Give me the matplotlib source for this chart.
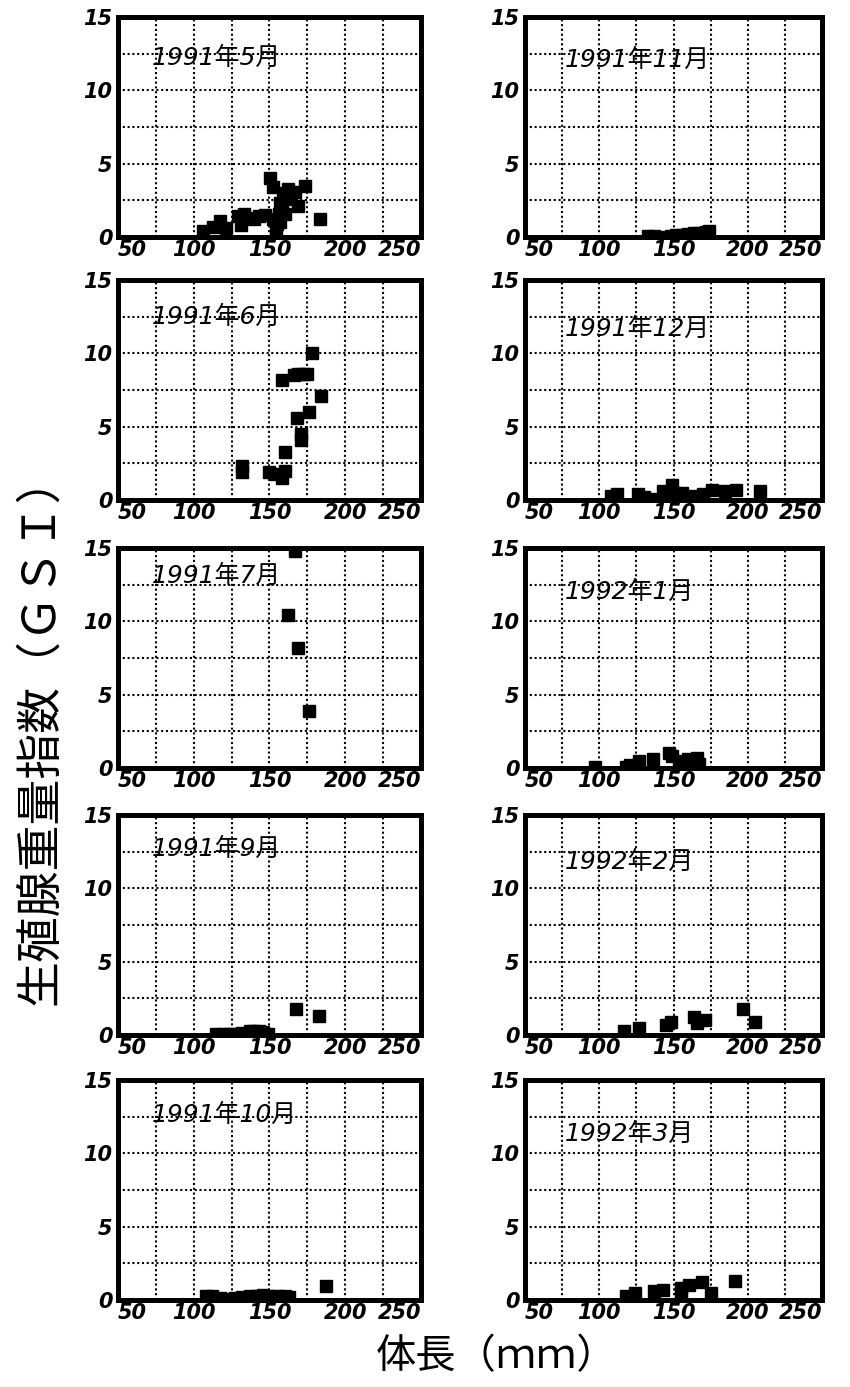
import matplotlib

matplotlib.use("Agg")
import matplotlib.pyplot as plt
import numpy as np


# body length (mm) / gonadosomatic index for each monthly sample
MAY91_LEN = [106, 113, 117, 121, 129, 131, 133, 136, 140, 143, 147, 150.5, 152, 152.5, 154, 155, 156, 157, 157,
             158, 159, 160, 162.5, 164, 167, 169, 173.5, 183.5]
MAY91_GSI = [0.4, 0.7, 1.1, 0.6, 1.4, 0.8, 1.6, 1.3, 1.2, 1.4, 1.5, 4.0, 1.2, 3.4, 0.5, 0.9, 1.6, 2.3, 1.0,
             2.0, 3.0, 1.6, 3.3, 2.6, 3.1, 2.1, 3.5, 1.2]

JUN91_LEN = [132, 132, 150, 153.5, 158, 160, 158, 160, 166, 169, 172, 174.5, 168, 171, 171, 176, 178, 184]
JUN91_GSI = [2.3, 1.9, 1.9, 1.8, 1.5, 2.0, 8.2, 3.3, 8.5, 8.6, 8.6, 8.6, 5.6, 4.5, 4.1, 6.0, 10.0, 7.1]

JUL91_LEN = [167, 162, 169, 176]
JUL91_GSI = [14.8, 10.4, 8.2, 3.9]

SEP91_LEN = [115, 120, 124, 128, 132, 137, 140, 143, 146, 149, 167.5, 183]
SEP91_GSI = [0.05, 0.05, 0.1, 0.1, 0.15, 0.25, 0.3, 0.3, 0.2, 0.1, 1.8, 1.3]

OCT91_LEN = [108, 112, 117, 122, 127, 132, 137, 142, 146, 150, 155, 160, 163, 187]
OCT91_GSI = [0.3, 0.25, 0.15, 0.1, 0.15, 0.2, 0.25, 0.3, 0.35, 0.3, 0.3, 0.25, 0.2, 0.95]

NOV91_LEN = [133, 137, 141, 148, 152, 156, 160, 164, 168, 172, 174]
NOV91_GSI = [0.05, 0.05, 0.0, 0.1, 0.15, 0.15, 0.2, 0.25, 0.3, 0.35, 0.4]

DEC91_LEN = [108, 112, 126, 130, 134, 143, 149, 151, 156, 164, 170, 176, 185, 192, 208]
DEC91_GSI = [0.3, 0.4, 0.4, 0.2, 0.1, 0.6, 1.0, 0.5, 0.5, 0.3, 0.4, 0.7, 0.6, 0.7, 0.6]

JAN92_LEN = [97, 118, 121, 127, 136, 147, 149, 154, 159.5, 166, 167.5]
JAN92_GSI = [0.1, 0.1, 0.2, 0.5, 0.6, 1.0, 0.8, 0.5, 0.6, 0.7, 0.3]

FEB92_LEN = [117, 127, 145, 148, 163.5, 166, 171.5, 197, 205]
FEB92_GSI = [0.3, 0.5, 0.7, 0.9, 1.2, 0.8, 1.0, 1.8, 0.9]

MAR92_LEN = [118, 124, 137, 143, 155, 155, 160.5, 169, 175, 191.5]
MAR92_GSI = [0.3, 0.45, 0.6, 0.7, 0.8, 0.5, 1.0, 1.2, 0.5, 1.3]

LEFT_TITLES = ["1991年5月", "1991年6月", "1991年7月", "1991年9月", "1991年10月"]
RIGHT_TITLES = ["1991年11月", "1991年12月", "1992年1月", "1992年2月", "1992年3月"]
LEFT_DATA = [(MAY91_LEN, MAY91_GSI), (JUN91_LEN, JUN91_GSI), (JUL91_LEN, JUL91_GSI),
             (SEP91_LEN, SEP91_GSI), (OCT91_LEN, OCT91_GSI)]
RIGHT_DATA = [(NOV91_LEN, NOV91_GSI), (DEC91_LEN, DEC91_GSI), (JAN92_LEN, JAN92_GSI),
              (FEB92_LEN, FEB92_GSI), (MAR92_LEN, MAR92_GSI)]

X_TICKS = [50, 100, 150, 200, 250]
Y_TICKS = [0, 5, 10, 15]

# layout in pixels of an 850 x 1387 canvas
W, H = 850, 1387
ROW_BOTTOMS = [237, 500, 768, 1035, 1300]
PANEL_H = 220
LEFT_X, LEFT_W = 118, 303
RIGHT_X, RIGHT_W = 525, 297
LEFT_TITLE_Y = [12.2, 12.5, 13.1, 12.7, 12.6]
RIGHT_TITLE_Y = [12.1, 11.7, 12.0, 11.8, 11.3]

plt.rcParams["font.family"] = ["DejaVu Sans", "Noto Sans CJK JP"]


def make_panel(fig, x_px, w_px, bottom_px, lengths, gsi, title, title_x, title_y):
    ax = fig.add_axes([x_px / W, 1 - bottom_px / H, w_px / W, PANEL_H / H])
    ax.plot(lengths, gsi, linestyle="none", marker="s", markersize=8.5, color="black", zorder=2)
    ax.set_xlim(50, 250)
    ax.set_ylim(0, 15)
    ax.set_xticks(X_TICKS)
    ax.set_yticks(Y_TICKS)
    ax.set_xticks(np.arange(50, 251, 25), minor=True)
    ax.set_yticks(np.arange(0, 15.1, 2.5), minor=True)
    ax.grid(True, which="both", color="black", linestyle=(0, (1, 1.3)), linewidth=1.5)
    ax.tick_params(which="both", length=0)
    ax.tick_params(axis="x", pad=2)
    ax.tick_params(axis="y", pad=4)
    for lab in ax.get_xticklabels() + ax.get_yticklabels():
        lab.set_fontsize(15)
        lab.set_fontstyle("italic")
        lab.set_fontweight("bold")
    xl = ax.get_xticklabels()
    xl[0].set_horizontalalignment("left")
    xl[-1].set_horizontalalignment("right")
    for sp in ax.spines.values():
        sp.set_linewidth(3.6)
        sp.set_zorder(3)
    ax.text(title_x, title_y, title, fontsize=18, fontstyle="italic", va="center", ha="left", zorder=4)
    return ax


def main() -> None:
    fig = plt.figure(figsize=(W / 100, H / 100), dpi=100)
    for i, bottom in enumerate(ROW_BOTTOMS):
        lx, ly = LEFT_DATA[i]
        make_panel(fig, LEFT_X, LEFT_W, bottom, lx, ly, LEFT_TITLES[i], 72, LEFT_TITLE_Y[i])
        rx, ry = RIGHT_DATA[i]
        make_panel(fig, RIGHT_X, RIGHT_W, bottom, rx, ry, RIGHT_TITLES[i], 77, RIGHT_TITLE_Y[i])

    fig.text(40 / W, 1 - 730 / H, "生殖腺重量指数（ＧＳＩ）", rotation=90, ha="center", va="center",
             fontsize=33, family=["Noto Sans CJK JP", "DejaVu Sans"])
    fig.text(497 / W, 1 - 1357 / H, "体長（ｍｍ）", ha="center", va="center",
             fontsize=29, family=["Noto Sans CJK JP", "DejaVu Sans"])
    fig.savefig("out.png", dpi=100)
    plt.close(fig)


if __name__ == "__main__":
    main()
